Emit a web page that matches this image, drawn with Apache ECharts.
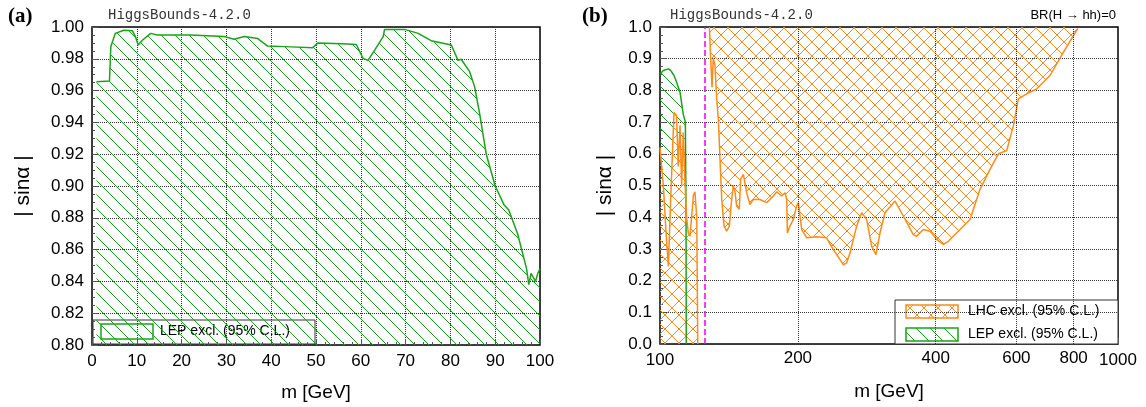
<!DOCTYPE html>
<html><head><meta charset="utf-8">
<script src="https://cdn.jsdelivr.net/npm/echarts@6/dist/echarts.min.js"></script>
<style>html,body{margin:0;background:#fff}#c{width:1146px;height:407px}</style>
</head><body><div id="c"></div>
<script>
// (a) LEP exclusion, m [GeV] vs |sin a|
var lepA_m = [1,3.9,4.2,5.2,7.1,9.0,9.7,10.3,11.3,13.1,14.6,22,29.5,31.7,34,37,39.2,44.4,49.3,50.4,55.7,59,60.5,61.6,63.1,65,65.3,69.8,72.8,75.7,80.2,81.7,82.4,84.3,85.4,86.5,88,90,92,93,95,97,97.5,98,99,99.5,100];
var lepA_s = [0.9656,0.966,0.9876,0.996,0.998,0.9977,0.9939,0.9887,0.9918,0.996,0.995,0.995,0.994,0.9923,0.994,0.9927,0.988,0.9875,0.987,0.9899,0.9895,0.989,0.9803,0.979,0.9855,0.994,0.9985,0.9985,0.996,0.9914,0.9887,0.979,0.9797,0.9719,0.9625,0.946,0.92,0.90,0.888,0.885,0.87,0.848,0.838,0.845,0.84,0.845,0.848];
// (b) LEP on the right panel
var lepB_m = [100,101.7,104.3,105.5,107.3,108.7,110.6,112.4,113.6,114,114.1];
var lepB_s = [0.852,0.863,0.868,0.863,0.847,0.826,0.794,0.725,0.70,0.40,0];
// (b) LHC low-mass jagged piece
var lhcL_m = [100,100.5,101.7,103.1,104.3,105.5,107.3,108.7,109.6,110.6,111.5,112.4,113.4,114.3,115.3,116.3,117.2,118.3,119.2,120.3,120.9];
var lhcL_s = [0.62,0.615,0.5,0.35,0.245,0.456,0.73,0.72,0.56,0.69,0.5,0.667,0.51,0.40,0.35,0.34,0.40,0.47,0.48,0.40,0];
// (b) LHC main exclusion (excluded above the curve)
var lhc_m = [128.2,129.0,129.9,130.7,131.8,133.0,134.1,135.2,136.4,138.0,139.8,141.7,143.4,144.6,145.8,147.0,149.0,150.0,152.1,154.6,157.2,159.9,165.3,171.0,176.8,179.8,184.4,187.5,189.1,189.7,192.2,195.5,198.7,200.5,203.9,209.1,219.8,231.1,239.0,247.2,251.4,255.6,259.9,268.8,275.6,282.6,289.9,296.2,302.2,309.9,326.0,340.0,357.3,363.4,375.8,388.6,401.8,415.6,426.2,451.9,475.3,499.7,525.5,548.0,571.5,591.0,606.0,631.9,664.6,710.6,759.7,799.1,816.6];
var lhc_s = [1.0,0.90,0.81,0.90,0.88,0.773,0.71,0.583,0.456,0.372,0.356,0.372,0.456,0.5,0.48,0.435,0.425,0.52,0.535,0.477,0.44,0.456,0.456,0.446,0.467,0.48,0.467,0.477,0.456,0.35,0.372,0.393,0.435,0.446,0.361,0.335,0.338,0.335,0.298,0.266,0.25,0.256,0.287,0.372,0.414,0.393,0.308,0.282,0.35,0.414,0.451,0.403,0.345,0.34,0.361,0.356,0.33,0.314,0.324,0.361,0.393,0.488,0.551,0.60,0.61,0.688,0.773,0.789,0.805,0.847,0.92,0.973,0.995];
var ticksB = [200,400,600,800];
var yTicksA = [0.80,1.00,0.02];
var higgsMass = 125;

function hatch(color, cross, gap) {
  var c = document.createElement('canvas'); c.width = gap; c.height = gap;
  var g = c.getContext('2d'); g.strokeStyle = color; g.lineWidth = 1;
  g.beginPath();
  g.moveTo(-1, -1); g.lineTo(gap + 1, gap + 1);
  if (cross) { g.moveTo(gap + 1, -1); g.lineTo(-1, gap + 1); }
  g.stroke();
  return {image: c, repeat: 'repeat'};
}
var GREEN = '#1aa31a', ORANGE = '#ff8c1a';
var gPat = hatch(GREEN, false, 14), oPat = hatch(ORANGE, true, 14);
function zip(a, b) { return a.map(function (v, i) { return [v, b[i]]; }); }

var chart = echarts.init(document.getElementById('c'));
var ax = {color: '#000', fontSize: 17, fontFamily: 'Liberation Sans'};
var nameStyle = {fontSize: 19, color: '#000', fontFamily: 'Liberation Sans'};
var yNameStyle = {fontSize: 21, color: '#000', fontFamily: 'Liberation Sans'};
var grid = {show: true, borderColor: '#000', borderWidth: 1.5};
var split = {show: true, lineStyle: {type: 'dotted', color: '#333'}};
chart.setOption({
  animation: false,
  grid: [Object.assign({left: 92, right: 606, top: 27, bottom: 62}, grid),
         Object.assign({left: 660, right: 28, top: 27, bottom: 63}, grid)],
  xAxis: [
    {gridIndex: 0, type: 'value', min: 0, max: 100, interval: 10, axisLabel: ax,
     axisTick: {inside: true, length: 6}, minorTick: {show: true, splitNumber: 5, length: 3}, splitLine: split, axisLine: {show: false},
     name: 'm [GeV]', nameLocation: 'middle', nameGap: 38, nameTextStyle: nameStyle},
    {gridIndex: 1, type: 'log', logBase: 10, min: 100, max: 1000,
     axisLabel: Object.assign({formatter: function (v) { return String(Math.round(v)); }}, ax),
     axisTick: {inside: true, length: 6}, splitLine: {show: false}, axisLine: {show: false},
     name: 'm [GeV]', nameLocation: 'middle', nameGap: 38, nameTextStyle: nameStyle}
  ],
  yAxis: [
    {gridIndex: 0, type: 'value', min: yTicksA[0], max: yTicksA[1], interval: yTicksA[2],
     axisLabel: Object.assign({formatter: function (v) { return v.toFixed(2); }}, ax),
     axisTick: {inside: true, length: 6}, minorTick: {show: true, splitNumber: 4, length: 3}, splitLine: split, axisLine: {show: false},
     name: '| sinα |', nameLocation: 'middle', nameGap: 58, nameTextStyle: yNameStyle},
    {gridIndex: 1, type: 'value', min: 0, max: 1, interval: 0.1,
     axisLabel: Object.assign({formatter: function (v) { return v.toFixed(1); }}, ax),
     axisTick: {inside: true, length: 6}, minorTick: {show: true, splitNumber: 4, length: 3}, splitLine: split, axisLine: {show: false},
     name: '| sinα |', nameLocation: 'middle', nameGap: 44, nameTextStyle: yNameStyle}
  ],
  series: [
    {type: 'line', xAxisIndex: 0, yAxisIndex: 0, data: zip(lepA_m, lepA_s), symbol: 'none', smooth: false,
     lineStyle: {color: GREEN, width: 1.5}, areaStyle: {color: gPat, opacity: 1, origin: 'start'}},
    {type: 'line', xAxisIndex: 1, yAxisIndex: 1, data: zip(lepB_m, lepB_s), symbol: 'none',
     lineStyle: {color: GREEN, width: 1.5}, areaStyle: {color: gPat, opacity: 1, origin: 'start'}},
    {type: 'line', xAxisIndex: 1, yAxisIndex: 1, data: zip(lhcL_m, lhcL_s), symbol: 'none',
     lineStyle: {color: ORANGE, width: 1.5}, areaStyle: {color: oPat, opacity: 1, origin: 'start'}},
    {type: 'line', xAxisIndex: 1, yAxisIndex: 1, data: zip(lhc_m, lhc_s), symbol: 'none',
     lineStyle: {color: ORANGE, width: 1.5}, areaStyle: {color: oPat, opacity: 1, origin: 'end'},
     markLine: {symbol: 'none', silent: true, animation: false,
       data: ticksB.map(function (t) { return {xAxis: t, lineStyle: {type: 'dotted', color: '#333', width: 1},
         label: {show: true, position: 'start', formatter: String(t), distance: 6, color: '#000', fontSize: 17, fontFamily: 'Liberation Sans'}}; })
         .concat([{xAxis: higgsMass, lineStyle: {type: 'dashed', color: '#ee00ee', width: 1.5}, label: {show: false}}])}}
  ],
  graphic: [
    {type: 'text', left: 8, top: 6, style: {text: '(a)', font: 'bold 21px "Liberation Serif"', fill: '#000'}},
    {type: 'text', left: 582, top: 6, style: {text: '(b)', font: 'bold 21px "Liberation Serif"', fill: '#000'}},
    {type: 'text', left: 108, top: 8, style: {text: 'HiggsBounds-4.2.0', font: '14px "Liberation Mono"', fill: '#333'}},
    {type: 'text', left: 670, top: 8, style: {text: 'HiggsBounds-4.2.0', font: '14px "Liberation Mono"', fill: '#333'}},
    {type: 'text', right: 30, top: 9, style: {text: 'BR(H → hh)=0', font: '13px "Liberation Sans"', fill: '#000'}},
    // legend (a)
    {type: 'rect', shape: {x: 93, y: 320, width: 222, height: 24}, style: {fill: '#fff', stroke: '#333', lineWidth: 1}},
    {type: 'rect', shape: {x: 101, y: 324, width: 52, height: 15}, style: {fill: gPat, stroke: GREEN, lineWidth: 1.5}},
    {type: 'text', left: 160, top: 324, style: {text: 'LEP excl. (95% C.L.)', font: '14px "Liberation Sans"', fill: '#000'}},
    // legend (b)
    {type: 'rect', shape: {x: 895, y: 300, width: 223, height: 44}, style: {fill: '#fff', stroke: '#333', lineWidth: 1}},
    {type: 'rect', shape: {x: 906, y: 305, width: 52, height: 13}, style: {fill: oPat, stroke: ORANGE, lineWidth: 1.5}},
    {type: 'text', left: 968, top: 304, style: {text: 'LHC excl. (95% C.L.)', font: '14px "Liberation Sans"', fill: '#000'}},
    {type: 'rect', shape: {x: 906, y: 328, width: 52, height: 13}, style: {fill: gPat, stroke: GREEN, lineWidth: 1.5}},
    {type: 'text', left: 968, top: 327, style: {text: 'LEP excl. (95% C.L.)', font: '14px "Liberation Sans"', fill: '#000'}}
  ]
});
</script></body></html>
